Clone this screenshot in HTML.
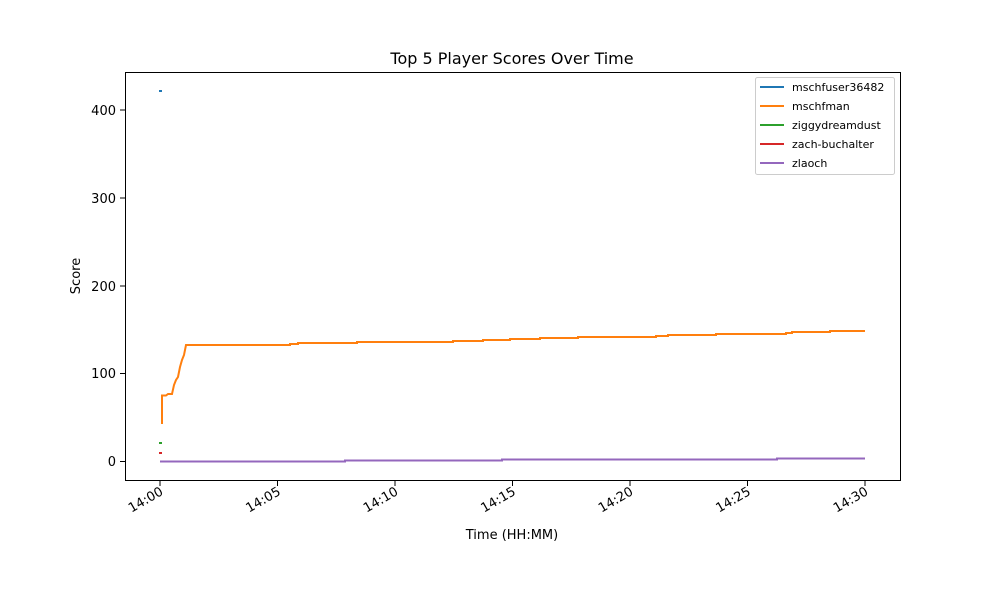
<!DOCTYPE html>
<html><head><style>body{margin:0;background:#fff}</style></head><body>
<svg width="1000" height="600" xmlns="http://www.w3.org/2000/svg" font-family="'DejaVu Sans', sans-serif">
<rect width="1000" height="600" fill="#fff"/>
<text x="512" y="64" font-size="16" text-anchor="middle">Top 5 Player Scores Over Time</text>
<g stroke-width="2" fill="none">
<path d="M159,91 H162" stroke="#1f77b4"/>
<path d="M159,443 H162" stroke="#2ca02c"/>
<path d="M159,453 H162" stroke="#d62728"/>
<path d="M160,461.5 H345 V460.5 H502 V459.5 H777 V458.5 H865" stroke="#9467bd"/>
<path d="M162,424 V395.5 H166 L168,394 H172 L174,385 L176,380 L178,377 L180,367 L182,360 L184,355 L186,345 H290 V344 H298 V343 H357 V342 H453 V341 H483 V340 H510 V339 H540 V338 H578 V337 H656 V336 H668 V335 H716 V334 H786 V333 H792 V332 H830 V331 H865" stroke="#ff7f0e"/>
</g>
<rect x="125.5" y="72.5" width="775" height="408" fill="none" stroke="#000" stroke-width="1"/>
<g stroke="#000" stroke-width="1">
<line x1="120" y1="461.5" x2="125" y2="461.5"/><line x1="120" y1="373.5" x2="125" y2="373.5"/>
<line x1="120" y1="286" x2="125" y2="286"/><line x1="120" y1="198" x2="125" y2="198"/>
<line x1="120" y1="110" x2="125" y2="110"/>
<line x1="160" y1="481" x2="160" y2="486"/><line x1="277.5" y1="481" x2="277.5" y2="486"/>
<line x1="395" y1="481" x2="395" y2="486"/><line x1="512.5" y1="481" x2="512.5" y2="486"/>
<line x1="630" y1="481" x2="630" y2="486"/><line x1="747.5" y1="481" x2="747.5" y2="486"/>
<line x1="865" y1="481" x2="865" y2="486"/>
</g>
<g font-size="13" text-anchor="end">
<text x="116" y="466">0</text><text x="116" y="378">100</text><text x="116" y="291">200</text>
<text x="116" y="203">300</text><text x="116" y="115">400</text>
</g>
<g font-size="13" text-anchor="end">
<text transform="translate(164,494) rotate(-30)">14:00</text>
<text transform="translate(281.5,494) rotate(-30)">14:05</text>
<text transform="translate(399,494) rotate(-30)">14:10</text>
<text transform="translate(516.5,494) rotate(-30)">14:15</text>
<text transform="translate(634,494) rotate(-30)">14:20</text>
<text transform="translate(751.5,494) rotate(-30)">14:25</text>
<text transform="translate(869,494) rotate(-30)">14:30</text>
</g>
<text x="512" y="539" font-size="13" text-anchor="middle">Time (HH:MM)</text>
<text transform="translate(80,276) rotate(-90)" font-size="13" text-anchor="middle">Score</text>
<rect x="755.5" y="77.5" width="139" height="97" rx="2" fill="#fff" stroke="#ccc"/>
<g stroke-width="2">
<line x1="760" y1="87" x2="784" y2="87" stroke="#1f77b4"/>
<line x1="760" y1="106" x2="784" y2="106" stroke="#ff7f0e"/>
<line x1="760" y1="125" x2="784" y2="125" stroke="#2ca02c"/>
<line x1="760" y1="144" x2="784" y2="144" stroke="#d62728"/>
<line x1="760" y1="163" x2="784" y2="163" stroke="#9467bd"/>
</g>
<g font-size="11">
<text x="792" y="91">mschfuser36482</text><text x="792" y="110">mschfman</text>
<text x="792" y="129">ziggydreamdust</text><text x="792" y="148">zach-buchalter</text>
<text x="792" y="167">zlaoch</text>
</g>
</svg>
</body></html>
